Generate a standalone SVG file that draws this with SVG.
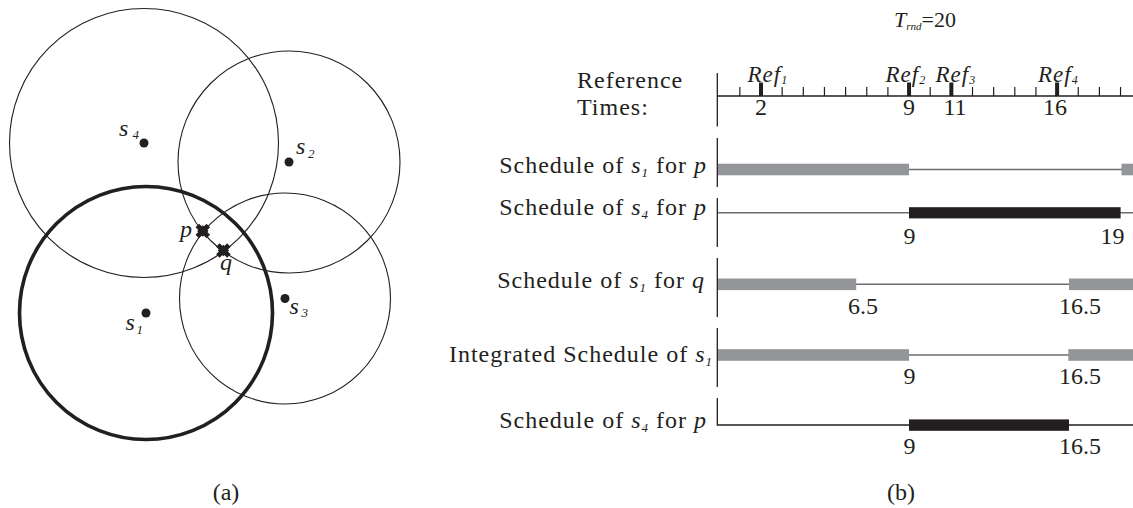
<svg xmlns="http://www.w3.org/2000/svg" width="1133" height="508" viewBox="0 0 1133 508">
<style>
  text { font-family: "Liberation Serif", "Times New Roman", serif; fill: #231f20; }
  .lbl { font-size: 24px; letter-spacing: 1px; }
  .num { font-size: 24px; text-anchor: middle; }
  .it { font-style: italic; }
  .sub { font-size: 13px; font-style: italic; }
  .ring { fill: none; stroke: #231f20; stroke-width: 1.1; }
  .ring-thick { fill: none; stroke: #231f20; stroke-width: 3.6; }
  .dot { fill: #231f20; }
  .axis { stroke: #231f20; stroke-width: 1.3; fill: none; }
  .tick { stroke: #231f20; stroke-width: 1.2; }
  .reftick { stroke: #231f20; stroke-width: 4; }
  .idle { stroke: #6d6e71; stroke-width: 1.6; }
  .gray { fill: #939598; }
  .black { fill: #231f20; }
  .mark { stroke: #231f20; stroke-width: 5; stroke-linecap: butt; fill: none; }
</style>
<defs>
  <g id="xmark">
    <path class="mark" d="M-5.5,-5.5 L5.5,5.5 M5.5,-5.5 L-5.5,5.5"/>
    <rect x="-4" y="-4" width="8" height="8" class="dot" transform="rotate(45)"/>
  </g>
</defs>

<!-- (a) sensor ranges -->
<g id="node-s4">
  <circle class="ring" cx="144" cy="143" r="134.5"/>
  <circle class="dot" cx="144" cy="143" r="4.5"/>
  <text class="it" x="119" y="136" font-size="24">s</text>
  <text class="sub" x="132.5" y="139">4</text>
</g>
<g id="node-s2">
  <circle class="ring" cx="289" cy="162" r="111"/>
  <circle class="dot" cx="289" cy="162" r="4.5"/>
  <text class="it" x="296" y="154" font-size="24">s</text>
  <text class="sub" x="308" y="158">2</text>
</g>
<g id="node-s3">
  <circle class="ring" cx="285" cy="298.5" r="105.5"/>
  <circle class="dot" cx="285" cy="298.5" r="4.5"/>
  <text class="it" x="289.5" y="314" font-size="24">s</text>
  <text class="sub" x="301.5" y="317">3</text>
</g>
<g id="node-s1">
  <circle class="ring-thick" cx="146" cy="313" r="126.5"/>
  <circle class="dot" cx="146" cy="313" r="4.5"/>
  <text class="it" x="125.5" y="330" font-size="24">s</text>
  <text class="sub" x="136.5" y="334">1</text>
</g>
<g id="node-p">
  <use href="#xmark" x="202.8" y="231"/>
  <text class="it" x="180" y="237" font-size="24">p</text>
</g>
<g id="node-q">
  <use href="#xmark" x="223.4" y="250.5"/>
  <text class="it" x="220" y="270" font-size="24">q</text>
</g>
<text id="caption-a" x="226" y="500" font-size="24" text-anchor="middle">(a)</text>

<!-- (b) schedules -->
<g id="title-trnd">
  <text x="894" y="26.5" font-size="22"><tspan class="it">T</tspan><tspan font-size="11" font-style="italic" dy="3">rnd</tspan><tspan dy="-3">=20</tspan></text>
</g>

<g id="connectors">
  <!-- reference time axis -->
  <line class="axis" x1="717.3" y1="73" x2="717.3" y2="126.5"/>
  <line class="axis" x1="717.3" y1="96" x2="1133" y2="96"/>
  <g class="tick">
    <line x1="739.85" y1="87" x2="739.85" y2="96"/>
    <line x1="782.15" y1="87" x2="782.15" y2="96"/>
    <line x1="803.3" y1="87" x2="803.3" y2="96"/>
    <line x1="824.45" y1="87" x2="824.45" y2="96"/>
    <line x1="845.6" y1="87" x2="845.6" y2="96"/>
    <line x1="866.75" y1="87" x2="866.75" y2="96"/>
    <line x1="887.9" y1="87" x2="887.9" y2="96"/>
    <line x1="930.2" y1="87" x2="930.2" y2="96"/>
    <line x1="972.5" y1="87" x2="972.5" y2="96"/>
    <line x1="993.65" y1="87" x2="993.65" y2="96"/>
    <line x1="1014.8" y1="87" x2="1014.8" y2="96"/>
    <line x1="1035.95" y1="87" x2="1035.95" y2="96"/>
    <line x1="1078.25" y1="87" x2="1078.25" y2="96"/>
    <line x1="1099.4" y1="87" x2="1099.4" y2="96"/>
    <line x1="1120.55" y1="87" x2="1120.55" y2="96"/>
  </g>
  <g class="reftick">
    <line x1="761" y1="82.5" x2="761" y2="96"/>
    <line x1="909.05" y1="82.5" x2="909.05" y2="96"/>
    <line x1="951.35" y1="82.5" x2="951.35" y2="96"/>
    <line x1="1057.1" y1="82.5" x2="1057.1" y2="96"/>
  </g>
</g>

<g id="ref-times">
  <text class="lbl" x="577" y="88">Reference</text>
  <text class="lbl" x="577" y="115">Times:</text>
  <text x="747.5" y="82" font-size="23" font-style="italic" letter-spacing="1">Ref<tspan font-size="12" dy="2">1</tspan></text>
  <text x="885.5" y="82" font-size="23" font-style="italic" letter-spacing="1">Ref<tspan font-size="12" dy="2">2</tspan></text>
  <text x="935.5" y="82" font-size="23" font-style="italic" letter-spacing="1">Ref<tspan font-size="12" dy="2">3</tspan></text>
  <text x="1038" y="82" font-size="23" font-style="italic" letter-spacing="1">Ref<tspan font-size="12" dy="2">4</tspan></text>
  <text class="num" x="761" y="115">2</text>
  <text class="num" x="909" y="115">9</text>
  <text class="num" x="955" y="115">11</text>
  <text class="num" x="1055" y="115">16</text>
</g>

<g id="row-s1-p">
  <line class="axis" x1="717.3" y1="138" x2="717.3" y2="187"/>
  <line class="idle" x1="718" y1="169.5" x2="1133" y2="169.5"/>
  <rect class="gray" x="718" y="163.7" width="191" height="11.6"/>
  <rect class="gray" x="1121.5" y="163.7" width="12" height="11.6"/>
  <text class="lbl" x="707" y="173" text-anchor="end">Schedule of <tspan class="it">s</tspan><tspan class="sub" dy="4">1</tspan><tspan dy="-4"> for </tspan><tspan class="it">p</tspan></text>
</g>

<g id="row-s4-p">
  <line class="axis" x1="717.3" y1="198" x2="717.3" y2="247"/>
  <line class="idle" x1="718" y1="212.8" x2="1133" y2="212.8"/>
  <rect class="black" x="909" y="207.2" width="211.6" height="11.2"/>
  <text class="lbl" x="707" y="215" text-anchor="end">Schedule of <tspan class="it">s</tspan><tspan class="sub" dy="4">4</tspan><tspan dy="-4"> for </tspan><tspan class="it">p</tspan></text>
  <text class="num" x="909.5" y="244">9</text>
  <text class="num" x="1112.5" y="244">19</text>
</g>

<g id="row-s1-q">
  <line class="axis" x1="717.3" y1="258" x2="717.3" y2="317"/>
  <line class="idle" x1="718" y1="284.3" x2="1133" y2="284.3"/>
  <rect class="gray" x="718" y="278.5" width="138.2" height="11.6"/>
  <rect class="gray" x="1069" y="278.5" width="64" height="11.6"/>
  <text class="lbl" x="705" y="287.5" text-anchor="end">Schedule of <tspan class="it">s</tspan><tspan class="sub" dy="4">1</tspan><tspan dy="-4"> for </tspan><tspan class="it">q</tspan></text>
  <text class="num" x="863" y="313.5">6.5</text>
  <text class="num" x="1080" y="313.5">16.5</text>
</g>

<g id="row-integrated-s1">
  <line class="axis" x1="717.3" y1="328" x2="717.3" y2="387"/>
  <line class="idle" x1="718" y1="355" x2="1133" y2="355"/>
  <rect class="gray" x="718" y="349.2" width="191" height="11.6"/>
  <rect class="gray" x="1068.3" y="349.2" width="65" height="11.6"/>
  <text class="lbl" x="713" y="361.5" text-anchor="end">Integrated Schedule of <tspan class="it">s</tspan><tspan class="sub" dy="4">1</tspan></text>
  <text class="num" x="909.5" y="383.5">9</text>
  <text class="num" x="1080" y="383.5">16.5</text>
</g>

<g id="row-s4-p-final">
  <path class="axis" d="M717.3,398 V425 H1133"/>
  <rect class="black" x="909" y="419.4" width="160" height="11.4"/>
  <text class="lbl" x="707" y="428.3" text-anchor="end">Schedule of <tspan class="it">s</tspan><tspan class="sub" dy="4">4</tspan><tspan dy="-4"> for </tspan><tspan class="it">p</tspan></text>
  <text class="num" x="909.5" y="453.5">9</text>
  <text class="num" x="1080" y="453.5">16.5</text>
</g>

<text id="caption-b" x="901" y="500" font-size="24" text-anchor="middle">(b)</text>
</svg>
